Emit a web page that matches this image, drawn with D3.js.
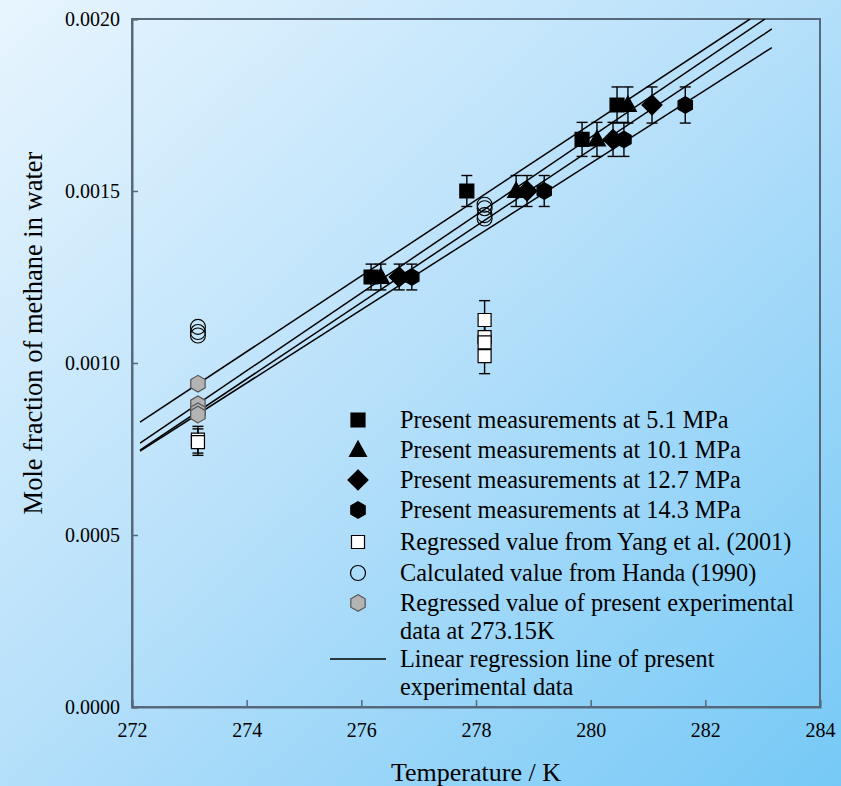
<!DOCTYPE html>
<html>
<head>
<meta charset="utf-8">
<script src="https://cdn.jsdelivr.net/npm/d3@7"></script>
<style>
  body { margin: 0; }
  svg { display: block; font-family: "Liberation Serif", "Times New Roman", serif; }
</style>
</head>
<body>
<div id="chart"></div>
<script>
// Present measurements [temperature K, mole fraction]; error bars are 3 %
const p51 = [[276.17, 0.00125], [277.84, 0.0015], [279.85, 0.00165], [280.46, 0.00175]];
const p101 = [[276.34, 0.00125], [278.70, 0.0015], [280.11, 0.00165], [280.65, 0.00175]];
const p127 = [[276.66, 0.00125], [278.89, 0.0015], [280.39, 0.00165], [281.07, 0.00175]];
const p143 = [[276.88, 0.00125], [279.19, 0.0015], [280.58, 0.00165], [281.65, 0.00175]];

// Yang et al. (2001), error bars 5 %
const yang = [[273.15, 0.000777], [273.15, 0.000770],
              [278.15, 0.001125], [278.15, 0.001075], [278.15, 0.00106], [278.15, 0.00102]];
// Handa (1990)
const handa = [[273.15, 0.001105], [273.15, 0.00109], [273.15, 0.00108],
               [278.15, 0.00146], [278.15, 0.00145], [278.15, 0.00143], [278.15, 0.00142]];
// regressed values at 273.15 K
const regressed = [[273.15, 0.00094], [273.15, 0.00088], [273.15, 0.00086], [273.15, 0.00085]];

// regression line end points [[x0, y0], [x1, y1]]
const regLines = [
  [[272.14, 0.000828], [282.78, 0.0020]],
  [[272.14, 0.000767], [283.04, 0.0020]],
  [[272.14, 0.000747], [283.16, 0.001971]],
  [[272.14, 0.000744], [283.16, 0.001917]]
];

const xTicks = [272, 274, 276, 278, 280, 282, 284];
const yTicks = [0, 0.0005, 0.001, 0.0015, 0.002];

const legendLabels = [
  ["Present measurements at 5.1 MPa"],
  ["Present measurements at 10.1 MPa"],
  ["Present measurements at 12.7 MPa"],
  ["Present measurements at 14.3 MPa"],
  ["Regressed value from Yang et al. (2001)"],
  ["Calculated value from Handa (1990)"],
  ["Regressed value of present experimental", "data at 273.15K"],
  ["Linear regression line of present", "experimental data"]
];

const width = 841, height = 786;
const margin = { left: 132, right: 21, top: 19, bottom: 79 };

const svg = d3.select("#chart").append("svg")
  .attr("width", width)
  .attr("height", height);

// background gradient
const defs = svg.append("defs");
const grad = defs.append("linearGradient")
  .attr("id", "bg")
  .attr("x1", 0).attr("y1", 0).attr("x2", 1).attr("y2", 1);
grad.append("stop").attr("offset", 0).attr("stop-color", "#e8f5fe");
grad.append("stop").attr("offset", 0.5).attr("stop-color", "#b4dffa");
grad.append("stop").attr("offset", 1).attr("stop-color", "#76c9f6");
svg.append("rect").attr("width", width).attr("height", height).attr("fill", "url(#bg)");

defs.append("clipPath").attr("id", "plotclip")
  .append("rect")
  .attr("x", margin.left).attr("y", margin.top)
  .attr("width", width - margin.left - margin.right)
  .attr("height", height - margin.top - margin.bottom);

const x = d3.scaleLinear().domain([272, 284]).range([margin.left, width - margin.right]);
const y = d3.scaleLinear().domain([0, 0.002]).range([height - margin.bottom, margin.top]);

// frame
svg.append("rect")
  .attr("x", x(272)).attr("y", y(0.002))
  .attr("width", x(284) - x(272)).attr("height", y(0) - y(0.002))
  .attr("fill", "none").attr("stroke", "#56687a").attr("stroke-width", 2);

// axes with inward ticks
const xAxis = svg.append("g")
  .attr("transform", `translate(0,${y(0)})`)
  .call(d3.axisBottom(x).tickValues(xTicks).tickSize(-7).tickPadding(16).tickFormat(d3.format("d")));
const yAxis = svg.append("g")
  .attr("transform", `translate(${x(272)},0)`)
  .call(d3.axisLeft(y).tickValues(yTicks).tickSize(-6).tickPadding(12).tickFormat(d3.format(".4f")));
[xAxis, yAxis].forEach(a => {
  a.select(".domain").attr("stroke", "#56687a").attr("stroke-width", 2);
  a.selectAll(".tick line").attr("stroke", "#56687a").attr("stroke-width", 1.5);
  a.selectAll(".tick text").attr("fill", "#000").style("font-size", "20px")
    .style("font-family", "'Liberation Serif', serif");
});

svg.append("text")
  .attr("x", 476).attr("y", 781)
  .attr("text-anchor", "middle")
  .style("font-size", "26px")
  .text("Temperature / K");
svg.append("text")
  .attr("transform", "translate(42,333) rotate(-90)")
  .attr("text-anchor", "middle")
  .style("font-size", "26.5px")
  .text("Mole fraction of methane in water");

// regression lines
const plot = svg.append("g").attr("clip-path", "url(#plotclip)");
const line = d3.line().x(d => x(d[0])).y(d => y(d[1]));
plot.selectAll("path.reg")
  .data(regLines)
  .enter()
  .append("path")
  .attr("class", "reg")
  .attr("d", line)
  .attr("fill", "none")
  .attr("stroke", "#000")
  .attr("stroke-width", 1.5);

// marker shapes
const hexPath = r => {
  const pts = d3.range(6).map(i => {
    const a = Math.PI / 2 + i * Math.PI / 3;
    return [r * Math.cos(a), r * Math.sin(a)];
  });
  return "M" + pts.join("L") + "Z";
};
const shapes = {
  square: "M-7,-7H7V7H-7Z",
  triangle: "M0,-9L8.5,6.5H-8.5Z",
  diamond: "M0,-10L10,0L0,10L-10,0Z",
  hexagon: hexPath(8.3),
  open: "M-6.5,-6.5H6.5V6.5H-6.5Z"
};

function errorBars(data, frac) {
  const g = svg.append("g").attr("stroke", "#000").attr("stroke-width", 1.4);
  data.forEach(d => {
    const lo = y(d[1] * (1 - frac)), hi = y(d[1] * (1 + frac)), cx = x(d[0]);
    g.append("line").attr("x1", cx).attr("x2", cx).attr("y1", lo).attr("y2", hi);
    g.append("line").attr("x1", cx - 5.5).attr("x2", cx + 5.5).attr("y1", lo).attr("y2", lo);
    g.append("line").attr("x1", cx - 5.5).attr("x2", cx + 5.5).attr("y1", hi).attr("y2", hi);
  });
}

function markers(data, shape, fill, stroke) {
  svg.append("g").selectAll("path")
    .data(data)
    .enter()
    .append("path")
    .attr("transform", d => `translate(${x(d[0])},${y(d[1])})`)
    .attr("d", shapes[shape])
    .attr("fill", fill)
    .attr("stroke", stroke)
    .attr("stroke-width", 1.2);
}

[p51, p101, p127, p143].forEach(s => errorBars(s, 0.03));
errorBars(yang, 0.05);

markers(regressed, "hexagon", "#b3b3b3", "#555");
markers(yang, "open", "#fff", "#000");
svg.append("g").selectAll("circle")
  .data(handa)
  .enter()
  .append("circle")
  .attr("cx", d => x(d[0]))
  .attr("cy", d => y(d[1]))
  .attr("r", 7.5)
  .attr("fill", "none")
  .attr("stroke", "#000")
  .attr("stroke-width", 1.1);
markers(p51, "square", "#000", "#000");
markers(p101, "triangle", "#000", "#000");
markers(p127, "diamond", "#000", "#000");
markers(p143, "hexagon", "#000", "#000");

// legend
const legendRows = [420, 450, 480, 510, 542, 573, 603, 659];
const legendMarks = [
  { shape: "square", fill: "#000", stroke: "#000" },
  { shape: "triangle", fill: "#000", stroke: "#000" },
  { shape: "diamond", fill: "#000", stroke: "#000" },
  { shape: "hexagon", fill: "#000", stroke: "#000" },
  { shape: "open", fill: "#fff", stroke: "#000" },
  { circle: true },
  { shape: "hexagon", fill: "#b3b3b3", stroke: "#555" },
  { line: true }
];
const legend = svg.append("g");
legendLabels.forEach((lab, i) => {
  const cy = legendRows[i];
  const m = legendMarks[i];
  if (m.line) {
    legend.append("line").attr("x1", 330).attr("x2", 386).attr("y1", cy).attr("y2", cy)
      .attr("stroke", "#000").attr("stroke-width", 1.5);
  } else if (m.circle) {
    legend.append("circle").attr("cx", 358).attr("cy", cy).attr("r", 7.5)
      .attr("fill", "none").attr("stroke", "#000").attr("stroke-width", 1.2);
  } else {
    legend.append("path").attr("transform", `translate(358,${cy})`)
      .attr("d", shapes[m.shape]).attr("fill", m.fill).attr("stroke", m.stroke).attr("stroke-width", 1.2);
  }
  lab.forEach((t, j) => {
    legend.append("text")
      .attr("x", 400).attr("y", cy + 8 + j * 28)
      .style("font-size", "24.3px")
      .text(t);
  });
});
</script>
</body>
</html>
